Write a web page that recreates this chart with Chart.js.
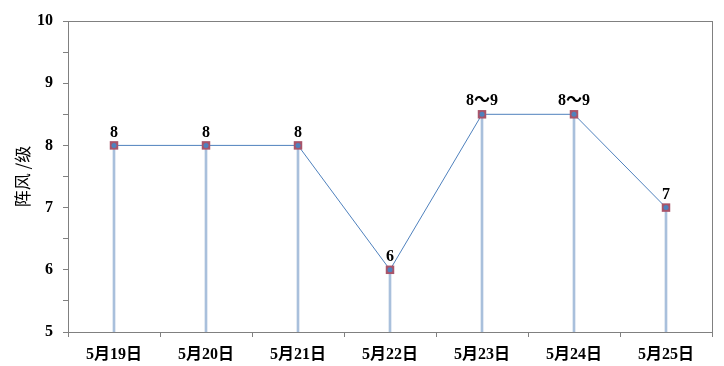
<!DOCTYPE html>
<html>
<head>
<meta charset="utf-8">
<script src="https://cdn.jsdelivr.net/npm/chart.js@4/dist/chart.umd.min.js"></script>
<style>
  html, body { margin: 0; padding: 0; background: #fff; }
</style>
</head>
<body>
<canvas id="myChart" width="724" height="366"></canvas>
<script>
// 日期和阵风等级
const dias = ['5月19日', '5月20日', '5月21日', '5月22日', '5月23日', '5月24日', '5月25日'];
const rajadas = [8, 8, 8, 6, 8.5, 8.5, 7];
const rotulos = ['8', '8', '8', '6', '8～9', '8～9', '7'];
const ticksY = [5, 6, 7, 8, 9, 10];

const fonteSerif = '"Liberation Serif", "Times New Roman", "Noto Sans CJK SC", serif';

// moldura cinza em volta da área do gráfico
const moldura = {
    id: 'moldura',
    afterDraw(chart) {
        const { ctx, chartArea: a } = chart;
        ctx.save();
        ctx.strokeStyle = '#808080';
        ctx.lineWidth = 1;
        ctx.strokeRect(Math.round(a.left) + 0.5, Math.round(a.top) + 0.5,
            Math.round(a.right - a.left), Math.round(a.bottom - a.top));
        ctx.restore();
    }
};

// rótulos acima dos pontos
const rotulosPontos = {
    id: 'rotulosPontos',
    afterDatasetsDraw(chart) {
        const { ctx } = chart;
        const meta = chart.getDatasetMeta(1);
        ctx.save();
        ctx.font = 'bold 16px ' + fonteSerif;
        ctx.fillStyle = '#000';
        ctx.textAlign = 'center';
        ctx.textBaseline = 'bottom';
        meta.data.forEach((p, i) => {
            ctx.fillText(rotulos[i], p.x, p.y - 5);
        });
        ctx.restore();
    }
};

const ctx = document.getElementById('myChart').getContext('2d');
const myChart = new Chart(ctx, {
    data: {
        labels: dias,
        datasets: [
            {
                type: 'bar',
                data: rajadas,
                backgroundColor: '#a9c0dc',
                barThickness: 2,
                order: 3
            },
            {
                type: 'line',
                data: rajadas,
                borderColor: '#4f81bd',
                borderWidth: 1,
                pointStyle: 'rect',
                pointRadius: 6,
                pointBackgroundColor: '#a8546a',
                pointBorderColor: '#a8546a',
                pointBorderWidth: 0,
                order: 2
            },
            {
                type: 'line',
                data: rajadas,
                showLine: false,
                pointStyle: 'circle',
                pointRadius: 2.5,
                pointBackgroundColor: '#4f81bd',
                pointBorderWidth: 0,
                order: 1
            }
        ]
    },
    options: {
        responsive: false,
        animation: false,
        layout: {
            padding: { top: 21, right: 12, bottom: 0, left: 0 }
        },
        plugins: {
            legend: { display: false },
            tooltip: { enabled: false }
        },
        scales: {
            x: {
                offset: true,
                grid: {
                    offset: true,
                    drawOnChartArea: false,
                    color: '#808080',
                    tickLength: 5
                },
                border: { color: '#808080' },
                ticks: {
                    color: '#000',
                    padding: 8,
                    maxRotation: 0,
                    font: { family: fonteSerif, size: 16, weight: 'bold' }
                },
                afterFit(scale) { scale.height = 34; }
            },
            y: {
                min: 5,
                max: 10,
                grid: {
                    drawOnChartArea: false,
                    color: '#808080',
                    tickLength: 5
                },
                border: { color: '#808080' },
                ticks: {
                    stepSize: 0.5,
                    color: '#000',
                    padding: 10,
                    font: { family: fonteSerif, size: 16, weight: 'bold' },
                    callback: function(value) {
                        return ticksY.includes(value) ? String(value) : '';
                    }
                },
                title: {
                    display: true,
                    text: '阵风 /级',
                    color: '#000',
                    padding: { top: 12, bottom: 0 },
                    font: { family: '"Noto Sans CJK SC", sans-serif', size: 17 }
                },
                afterFit(scale) { scale.width = 68; }
            }
        }
    },
    plugins: [moldura, rotulosPontos]
});
</script>
</body>
</html>
